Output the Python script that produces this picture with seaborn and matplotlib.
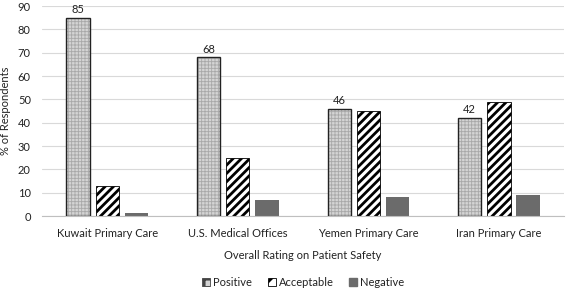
import matplotlib
matplotlib.use('Agg')
import matplotlib.pyplot as plt
import seaborn as sns
import pandas as pd
import numpy as np
from matplotlib.patches import Patch

# data
sites = ['Kuwait Primary Care', 'U.S. Medical Offices', 'Yemen Primary Care', 'Iran Primary Care']
positive = [85, 68, 46, 42]
acceptable = [13, 25, 45, 49]
negative = [1.5, 7, 8, 9]
ratings = ['Positive', 'Acceptable', 'Negative']

df = pd.DataFrame({
    'site': sites * 3,
    'rating': ['Positive'] * 4 + ['Acceptable'] * 4 + ['Negative'] * 4,
    'pct': positive + acceptable + negative,
})

sns.set_style('white')
plt.rcParams['font.family'] = ['Lato', 'DejaVu Sans']
plt.rcParams['hatch.linewidth'] = 2.0

fig = plt.figure(figsize=(5.67, 2.92), dpi=100)
ax = fig.add_axes([0.074, 0.26, 0.921, 0.719])

sns.barplot(data=df, x='site', y='pct', hue='rating', hue_order=ratings,
            order=sites, width=0.67, gap=0.2, ax=ax, legend=False,
            palette=['#d4d4d4', 'white', '#6b6b6b'], saturation=1)

conts = dict(zip(ratings, ax.containers))

# positive: fine dotted grey fill with dark outline
for p in conts['Positive']:
    p.set_hatch('+++++')
    p.set_edgecolor('#a8a8a8')
    p.set_linewidth(0)
    if hasattr(p, 'set_hatch_linewidth'):
        p.set_hatch_linewidth(0.6)
    x, y = p.get_xy()
    ax.add_patch(plt.Rectangle((x, y), p.get_width(), p.get_height(),
                               fill=False, edgecolor='#222222', lw=1.0, zorder=3))
ax.bar_label(conts['Positive'], labels=[str(v) for v in positive], padding=2,
             fontsize=8, color='#222222')

# acceptable: heavy black diagonal stripes
for p in conts['Acceptable']:
    p.set_hatch('////')
    p.set_edgecolor('black')
    p.set_linewidth(0.6)

# negative: solid dark grey
for p in conts['Negative']:
    p.set_edgecolor('#6b6b6b')
    p.set_linewidth(0)

ax.set_xlim(-0.5, 3.5)
ax.set_ylim(0, 90)
ax.set_yticks(range(0, 91, 10))
ax.yaxis.grid(True, color='#d9d9d9', lw=0.8)
ax.set_axisbelow(True)
for s in ['top', 'right', 'left']:
    ax.spines[s].set_visible(False)
ax.spines['bottom'].set_color('#bfbfbf')
ax.spines['bottom'].set_linewidth(0.8)

ax.set_xticks(np.arange(-0.5, 4, 1), minor=True)
ax.tick_params(axis='x', which='major', length=0, labelsize=8, colors='#222222', pad=8.5)
ax.tick_params(axis='x', which='minor', length=5, color='#bfbfbf', width=0.8)
ax.tick_params(axis='y', length=0, labelsize=8, colors='#222222', pad=8)

ax.set_xlabel('Overall Rating on Patient Safety', fontsize=8, color='#222222', labelpad=8)
ax.set_ylabel('% of Respondents', fontsize=8, color='#222222', labelpad=5)

handles = [
    Patch(facecolor='#d4d4d4', edgecolor='#444444', hatch='++', lw=0.6, label='Positive'),
    Patch(facecolor='white', edgecolor='black', hatch='//', lw=0.6, label='Acceptable'),
    Patch(facecolor='#6b6b6b', edgecolor='#6b6b6b', label='Negative'),
]
fig.legend(handles=handles, loc='center', bbox_to_anchor=(0.535, 0.032), ncol=3,
           frameon=False, fontsize=8, handlelength=0.7, handleheight=0.7,
           handletextpad=0.3, columnspacing=1.4, labelcolor='#222222')

fig.savefig('out.png', dpi=100)
